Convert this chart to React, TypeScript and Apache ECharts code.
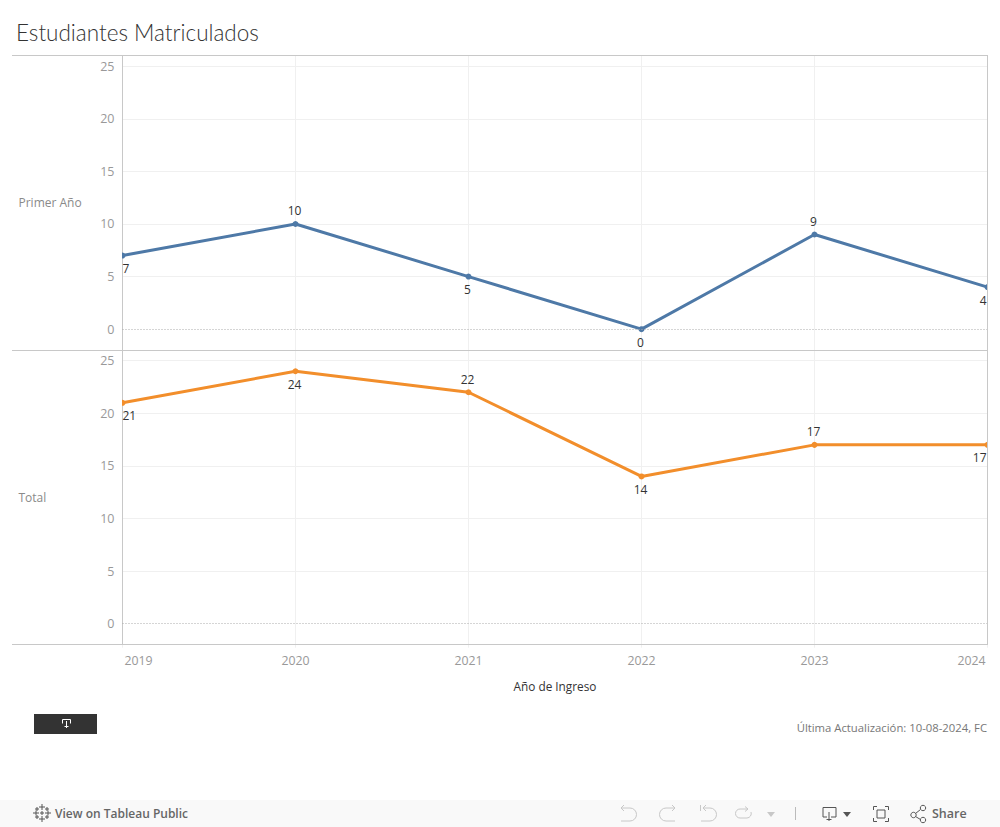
import React, { useEffect, useRef } from "react";
import * as echarts from "echarts";

const years = ["2019", "2020", "2021", "2022", "2023", "2024"];
const primerAno = [7, 10, 5, 0, 9, 4];
const total = [21, 24, 22, 14, 17, 17];
const primerPos = ["bottom", "top", "bottom", "bottom", "top", "bottom"];
const totalPos = ["bottom", "bottom", "top", "bottom", "top", "bottom"];
const yTicks = [5, 10, 15, 20, 25];
const yLabels = [0, 5, 10, 15, 20, 25];

const FONT = "Open Sans";
const GRID = "#f0f0f0";
const BORDER = "#c8c8c8";

const icons: Record<string, string> = {
  icoUndo: "M621 808H630A6.5 6.5 0 0 1 630 821H621M624 805L621 808L624 811",
  icoRedo: "M675 808H666A6.5 6.5 0 0 0 666 821H675M672 805L675 808L672 811",
  icoRevert: "M700.5 805V811M703 808H710A6.5 6.5 0 0 1 710 821H701M706 805L703 808L706 811",
  icoRefresh: "M748 809H740A4.5 4.5 0 0 0 740 818H747A4.5 4.5 0 0 0 751 812M745 806.5L748 809L745 811.5",
  icoDownload: "M827 817H823V807.5H836V817H831M829 812V821M826.5 819.5H831.5",
  icoFull: "M873.5 810V806.5H877M885 806.5H888.5V810M888.5 818V821.5H885M877 821.5H873.5V818M877 810H885V818H877Z",
  icoShare: "M915.5 813.5L920.5 809.5M915.5 816.5L920.5 819.5",
  icoLogo:
    "M42 804V810M39 807H45M42 816V822M39 819H45M33 813H39M36 810.5V815.5M45 813H51M48 810.5V815.5M42 811V815M40 813H44M37 807V811M35 809H39M47 807V811M45 809H49M37 815V819M35 817H39M47 815V819M45 817H49",
  icoTab: "M62.5 723.5V719.5H70.5V723.5M66.5 721V728M64.5 726.5H68.5",
};
Object.entries(icons).forEach(([name, d]) => {
  echarts.graphic.registerShape(name, (echarts.graphic as any).extendPath(d, {}));
});

function icon(name: string, stroke: string, lineWidth = 1) {
  return { type: name, x: 0, y: 0, silent: true, style: { stroke, fill: "none", lineWidth } };
}
function hline(x1: number, x2: number, y: number, stroke: string) {
  return { type: "line", silent: true, z: 51, shape: { x1, y1: y, x2, y2: y }, style: { stroke, lineWidth: 1 } };
}
function label(text: string, x: number, y: number, font: number, fill: string, extra: any = {}) {
  return {
    type: "text",
    x,
    y,
    silent: true,
    style: { text, fontFamily: FONT, fontSize: font, fill, verticalAlign: "middle", ...extra },
  };
}

function seriesData(values: number[], pos: string[]) {
  return values.map((value, i) => ({
    value,
    label: {
      position: pos[i],
      align: i === 0 ? "left" : i === values.length - 1 ? "right" : "center",
      offset: i === 0 ? [0, 0] : [-1, 0],
    },
  }));
}

function lineSeries(name: string, values: number[], pos: string[], color: string, idx: number) {
  return {
    type: "line",
    name,
    xAxisIndex: idx,
    yAxisIndex: idx,
    data: seriesData(values, pos),
    symbol: "circle",
    symbolSize: 6,
    showSymbol: true,
    lineStyle: { color, width: 3 },
    itemStyle: { color },
    label: { show: true, distance: 4, color: "#333", fontFamily: FONT, fontSize: 12 },
    markLine: {
      silent: true,
      symbol: "none",
      label: { show: false },
      lineStyle: { color: "#aaa", type: [1, 2], width: 1, opacity: 1 },
      data: [{ yAxis: 0 }],
    },
    z: 3,
  };
}

function yAxis(name: string, idx: number) {
  return {
    type: "value",
    gridIndex: idx,
    min: -2,
    max: 26,
    name,
    nameLocation: "middle",
    nameRotate: 0,
    nameGap: 104,
    nameTextStyle: { color: "#8a8a8a", fontFamily: FONT, fontSize: 12, align: "left", verticalAlign: "middle" },
    axisLine: { show: true, lineStyle: { color: BORDER } },
    axisTick: { show: false, customValues: yTicks },
    axisLabel: { color: "#999", fontFamily: FONT, fontSize: 12.5, margin: 8, customValues: yLabels },
    splitLine: { show: true, lineStyle: { color: GRID } },
  };
}

function xAxis(idx: number, isBottom: boolean) {
  return {
    type: "category",
    gridIndex: idx,
    data: years,
    boundaryGap: false,
    position: "bottom",
    name: isBottom ? "Año de Ingreso" : "",
    nameLocation: "middle",
    nameGap: 35,
    nameTextStyle: { color: "#333", fontFamily: FONT, fontSize: 11.8, fontWeight: 500 },
    axisLine: { show: false, onZero: false },
    axisTick: { show: isBottom, length: 3, lineStyle: { color: GRID } },
    axisLabel: isBottom
      ? {
          show: true,
          interval: 0,
          color: "#999",
          fontFamily: FONT,
          fontSize: 12.3,
          margin: 10,
          alignMinLabel: "left",
          alignMaxLabel: "right",
          padding: [0, 2, 0, 2],
        }
      : { show: false },
    splitLine: { show: true, interval: 0, lineStyle: { color: GRID } },
  };
}

export default function App() {
  const ref = useRef<HTMLDivElement>(null);
  useEffect(() => {
    const chart = echarts.init(ref.current!, undefined, { renderer: "svg" });
    chart.setOption({
      animation: false,
      backgroundColor: "#fff",
      grid: [
        { left: 122.5, right: 12.5, top: 55.7, height: 294.5 },
        { left: 122.5, right: 12.5, top: 350.2, height: 294.5 },
      ],
      xAxis: [xAxis(0, false), xAxis(1, true)],
      yAxis: [yAxis("Primer Año", 0), yAxis("Total", 1)],
      series: [
        lineSeries("Primer Año", primerAno, primerPos, "#4e79a7", 0),
        lineSeries("Total", total, totalPos, "#f28e2b", 1),
      ],
      graphic: [
        label("Estudiantes Matriculados", 16, 32.5, 22.5, "#333", { fontFamily: "Lato", fontWeight: 300 }),
        { type: "rect", silent: true, z: 50, shape: { x: 116, y: 56, width: 6, height: 589 }, style: { fill: "#fff" } },
        { type: "rect", silent: true, z: 50, shape: { x: 988, y: 56, width: 12, height: 589 }, style: { fill: "#fff" } },
        hline(12, 987.5, 55.5, BORDER),
        hline(12, 987.5, 350.5, BORDER),
        hline(12, 987.5, 644.5, BORDER),
        { type: "line", silent: true, z: 51, shape: { x1: 987.5, y1: 55, x2: 987.5, y2: 645 }, style: { stroke: BORDER, lineWidth: 1 } },
        { type: "rect", silent: true, shape: { x: 34, y: 714, width: 63, height: 20 }, style: { fill: "#333" } },
        icon("icoTab", "#fff"),
        label("Última Actualización: 10-08-2024, FC", 987, 727, 11.3, "#777", { align: "right" }),
        { type: "rect", silent: true, z: -1, shape: { x: 0, y: 800, width: 1000, height: 27 }, style: { fill: "#f9f9f9" } },
        icon("icoLogo", "#555"),
        label("View on Tableau Public", 55, 813.5, 12, "#666", { fontWeight: 600 }),
        icon("icoUndo", "#c8c8c8"),
        icon("icoRedo", "#c8c8c8"),
        icon("icoRevert", "#c8c8c8"),
        icon("icoRefresh", "#c8c8c8"),
        { type: "polygon", silent: true, shape: { points: [[767, 812], [775, 812], [771, 817]] }, style: { fill: "#c8c8c8" } },
        { type: "line", silent: true, shape: { x1: 795.5, y1: 807, x2: 795.5, y2: 820 }, style: { stroke: "#bbb", lineWidth: 1 } },
        icon("icoDownload", "#555"),
        { type: "polygon", silent: true, shape: { points: [[843, 812], [851, 812], [847, 817]] }, style: { fill: "#555" } },
        icon("icoFull", "#555"),
        icon("icoShare", "#555"),
        { type: "circle", silent: true, shape: { cx: 913.5, cy: 815, r: 2.7 }, style: { fill: "none", stroke: "#555" } },
        { type: "circle", silent: true, shape: { cx: 923, cy: 808, r: 2.7 }, style: { fill: "none", stroke: "#555" } },
        { type: "circle", silent: true, shape: { cx: 923, cy: 820, r: 2.7 }, style: { fill: "none", stroke: "#555" } },
        label("Share", 932, 813.5, 12.5, "#666", { fontWeight: 600 }),
      ],
    });
    return () => chart.dispose();
  }, []);
  return <div ref={ref} style={{ position: "fixed", left: 0, top: 0, width: 1000, height: 827 }} />;
}
